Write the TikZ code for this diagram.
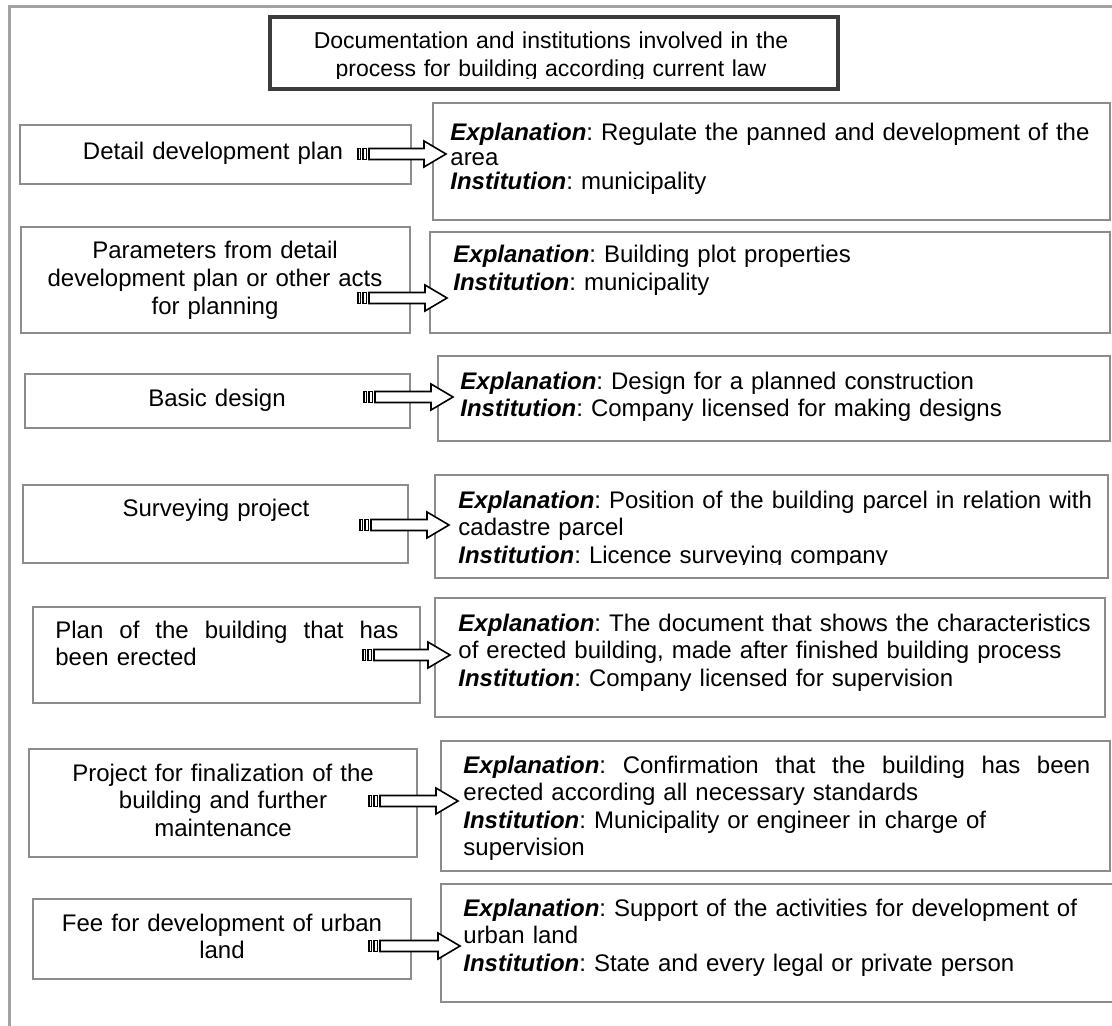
\documentclass[tikz,border=0pt]{standalone}
\usepackage{fontspec}
\setmainfont{Liberation Sans}
\usepackage{xcolor}
\usetikzlibrary{calc,fit}

\definecolor{boxgray}{HTML}{8C8C8C}
\definecolor{framegray}{HTML}{A2A2A2}
\definecolor{titlegray}{HTML}{3C3C3C}

\newcommand{\expl}{{\bfseries\itshape Explanation}: }
\newcommand{\inst}{{\bfseries\itshape Institution}: }

% striped block arrow from a tail coordinate to a tip coordinate
\newcommand{\stripedarrow}[2]{%
	\draw[arrowline] ($(#1)+(0,-5.5)$) rectangle ($(#1)+(2.5,5.5)$);
	\draw[arrowline] ($(#1)+(5,-5.5)$) rectangle ($(#1)+(8.5,5.5)$);
	\draw[arrowline] ($(#1)+(11,-5.5)$) -- ($(#2)+(-22,-5.5)$) -- ($(#2)+(-22,-13)$)
		-- (#2) -- ($(#2)+(-22,13)$) -- ($(#2)+(-22,5.5)$) -- ($(#1)+(11,5.5)$) -- cycle;
}

\begin{document}
\begin{tikzpicture}[x=0.5pt,y=-0.5pt,font=\fontsize{12}{13.8}\selectfont\frenchspacing,
	box/.style={draw=boxgray,line width=1.2pt,inner sep=0pt,fit={#1}},
	doctext/.style={text width=#1,align=center,inner sep=0pt,anchor=base},
	expltext/.style={text width=#1,align=left,inner sep=0pt,anchor=base west},
	arrowline/.style={draw=black,fill=white,line width=0.8pt}]
		\useasboundingbox (0,0) rectangle (1112,1026);
		
		% outer frame
		\draw[framegray,line width=1.5pt] (9,1026) -- (9,7) -- (1112,7);
		
		% title
		\node[draw=titlegray,line width=2pt,inner sep=0pt,fit={(270,17) (838,89)}] (title) {};
		\begin{scope}
			\clip (272,19) rectangle (836,79);
			\node[doctext=290pt,font=\fontsize{11.5}{13.8}\selectfont] (titletext) at (551,49)
				{Documentation and institutions involved in the\\process for building according current law};
		\end{scope}
		
		% documents
		\node[box={(20,125) (411,184)}] (doc1) {};
		\node[box={(21,227) (410,333)}] (doc2) {};
		\node[box={(25,374) (410,428)}] (doc3) {};
		\node[box={(23,485) (408,563)}] (doc4) {};
		\node[box={(33,607) (420,703)}] (doc5) {};
		\node[box={(29,749) (417,857)}] (doc6) {};
		\node[box={(33,899) (411,979)}] (doc7) {};
		
		\node[doctext=180pt] (doctext1) at (213,160) {Detail development plan};
		\node[doctext=180pt] (doctext2) at (215,259) {Parameters from detail\\development plan or other acts\\for planning};
		\node[doctext=180pt] (doctext3) at (217,406) {Basic design};
		\node[doctext=180pt] (doctext4) at (216,516) {Surveying project};
		\node[expltext=171.5pt] (doctext5) at (55,638)
			{\hbox to 171.5pt{Plan\hfill of\hfill the\hfill building\hfill that\hfill has}\\been erected};
		\node[doctext=180pt] (doctext6) at (223,781) {Project for finalization of the\\building and further\\maintenance};
		\node[doctext=180pt] (doctext7) at (222,931) {Fee for development of urban\\land};
		
		% explanations and institutions
		\node[box={(433,103) (1110,220)}] (expl1) {};
		\node[box={(430,232) (1110,333)}] (expl2) {};
		\node[box={(438,356) (1110,441)}] (expl3) {};
		\node[box={(435,475) (1108,578)}] (expl4) {};
		\node[box={(435,598) (1105,717)}] (expl5) {};
		\node[box={(441,741) (1110,871)}] (expl6) {};
		\node[box={(441,884) (1116,1002)}] (expl7) {};
		
		\node[expltext=330pt,font=\fontsize{12}{12.25}\selectfont\frenchspacing] (expltext1) at (450,141)
			{\expl Regulate the panned and development of the\\area\\\inst municipality};
		\node[expltext=330pt] (expltext2) at (453,263)
			{\expl Building plot properties\\\inst municipality};
		\node[expltext=330pt] (expltext3) at (460,389)
			{\expl Design for a planned construction\\\inst Company licensed for making designs};
		\begin{scope}
			\clip (437,477) rectangle (1106,564);
			\node[expltext=330pt] (expltext4) at (458,508)
				{\expl Position of the building parcel in relation with\\cadastre parcel\\\inst Licence surveying company};
		\end{scope}
		\node[expltext=330pt] (expltext5) at (458,631)
			{\expl The document that shows the characteristics\\of erected building, made after finished building process\\\inst Company licensed for supervision};
		\node[expltext=313.5pt] (expltext6) at (463,773)
			{\hbox to 313.5pt{{\bfseries\itshape Explanation}:\hfill Confirmation\hfill that\hfill the\hfill building\hfill has\hfill been}\\erected according all necessary standards\\\inst Municipality or engineer in charge of\\supervision};
		\node[expltext=330pt] (expltext7) at (463,916)
			{\expl Support of the activities for development of\\urban land\\\inst State and every legal or private person};
		
		% arrows
		\coordinate (tail1) at (358,154); \coordinate (tip1) at (446,154);
		\coordinate (tail2) at (358,298); \coordinate (tip2) at (447,298);
		\coordinate (tail3) at (364,397); \coordinate (tip3) at (453,397);
		\coordinate (tail4) at (360,525); \coordinate (tip4) at (449,525);
		\coordinate (tail5) at (363,655); \coordinate (tip5) at (450,655);
		\coordinate (tail6) at (369,801); \coordinate (tip6) at (458,801);
		\coordinate (tail7) at (369,946); \coordinate (tip7) at (460,946);
		\stripedarrow{tail1}{tip1}
		\stripedarrow{tail2}{tip2}
		\stripedarrow{tail3}{tip3}
		\stripedarrow{tail4}{tip4}
		\stripedarrow{tail5}{tip5}
		\stripedarrow{tail6}{tip6}
		\stripedarrow{tail7}{tip7}
		
\end{tikzpicture}
\end{document}
